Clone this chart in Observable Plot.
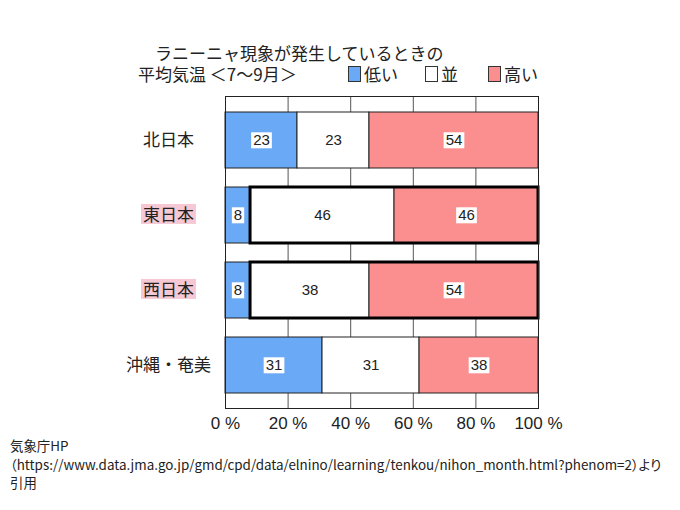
<!DOCTYPE html>
<html>
<head>
<meta charset="utf-8">
<script src="https://cdn.jsdelivr.net/npm/d3@7"></script>
<script src="https://cdn.jsdelivr.net/npm/@observablehq/plot@0.6"></script>
<style>
  html, body { margin: 0; padding: 0; background: #fff; }
  #wrap { position: relative; width: 680px; height: 510px; overflow: hidden; font-family: "Noto Sans CJK JP", "Liberation Sans", sans-serif; color: #222; }
  #header { position: relative; height: 86px; }
  .t { position: absolute; font-size: 17px; white-space: nowrap; line-height: 19px; }
  .lg { position: absolute; top: 64px; font-size: 17px; line-height: 19px; white-space: nowrap; display: flex; align-items: center; }
  .sw { display: inline-block; width: 11px; height: 14px; border: 1px solid #333; margin-right: 3px; }
  #caption { position: absolute; left: 10px; top: 436px; font-size: 13.4px; line-height: 18.5px; white-space: nowrap; color: #222; font-feature-settings: "palt"; }
</style>
</head>
<body>
<div id="wrap">
  <div id="header">
    <div class="t" style="left:155px; top:43px;">ラニーニャ現象が発生しているときの</div>
    <div class="t" style="left:138px; top:64px;">平均気温 ＜7～9月＞</div>
    <div id="legend"></div>
  </div>
  <div id="chart"></div>
  <div id="caption"></div>
</div>
<script>
const regions = ["北日本", "東日本", "西日本", "沖縄・奄美"];
const categories = ["低い", "並", "高い"];
const low = [23, 8, 8, 31];
const normal = [23, 46, 38, 31];
const high = [54, 46, 54, 38];
const highlighted = ["東日本", "西日本"];
const xTicks = [0, 20, 40, 60, 80, 100];
const colors = ["#6aa9f5", "#ffffff", "#fb8f8f"];
const captionLines = [
  "気象庁HP",
  "（https://www.data.jma.go.jp/gmd/cpd/data/elnino/learning/tenkou/nihon_month.html?phenom=2）より",
  "引用"
];

const series = [low, normal, high];
const rows = [];
regions.forEach((r, i) => {
  categories.forEach((c, j) => rows.push({region: r, category: c, value: series[j][i]}));
});
const outlineRows = regions
  .map((r, i) => ({region: r, start: low[i], end: low[i] + normal[i] + high[i]}))
  .filter(d => highlighted.includes(d.region));

// legend
const legendLeft = [348, 425, 488];
const legend = document.getElementById("legend");
categories.forEach((c, j) => {
  const item = document.createElement("div");
  item.className = "lg";
  item.style.left = legendLeft[j] + "px";
  item.innerHTML = `<span class="sw" style="background:${colors[j]}"></span><span>${c}</span>`;
  legend.appendChild(item);
});

document.getElementById("caption").innerHTML = captionLines.join("<br>");

const plot = Plot.plot({
  width: 680,
  height: 350,
  marginTop: 10,
  marginBottom: 28,
  marginLeft: 225,
  marginRight: 142,
  style: {fontFamily: "'Liberation Sans', 'Noto Sans CJK JP', sans-serif", fontSize: "16px", color: "#222", background: "transparent"},
  x: {domain: [0, 100], axis: null},
  y: {domain: regions, paddingInner: 0.26, paddingOuter: 0.2, axis: null},
  color: {domain: categories, range: colors},
  marks: [
    Plot.gridX(xTicks, {stroke: "#555", strokeOpacity: 1, strokeWidth: 1}),
    Plot.barX(rows, Plot.stackX({x: "value", y: "region", z: "category", fill: "category", stroke: "#222", strokeWidth: 1, order: categories})),
    Plot.barX(outlineRows, {x1: "start", x2: "end", y: "region", fill: "none", stroke: "#000", strokeWidth: 3}),
    Plot.frame({stroke: "#222", strokeWidth: 1}),
    Plot.text(rows, Plot.stackX({x: "value", y: "region", z: "category", text: d => String(d.value), order: categories, fontSize: 15, fill: "#222"})),
    Plot.axisY({tickSize: 0, tickPadding: 0, textAnchor: "middle", dx: -57, fontSize: 17, label: null, fontFamily: "'Noto Sans CJK JP', sans-serif"}),
    Plot.axisX(xTicks, {tickSize: 0, tickPadding: 8, tickFormat: d => d + " %", fontSize: 17, label: null})
  ]
});
document.getElementById("chart").appendChild(plot);

const svgNS = "http://www.w3.org/2000/svg";
d3.select(plot).selectAll("text").each(function() {
  const s = this.textContent;
  const isValue = /^\d+$/.test(s);
  const isHi = highlighted.includes(s);
  if (!isValue && !isHi) return;
  const b = this.getBBox();
  const t = this.getAttribute("transform");
  const r = document.createElementNS(svgNS, "rect");
  if (isValue) {
    r.setAttribute("x", b.x - 2); r.setAttribute("y", b.y + 1);
    r.setAttribute("width", b.width + 4); r.setAttribute("height", b.height - 1);
    r.setAttribute("fill", "#fff");
  } else {
    r.setAttribute("x", b.x - 2); r.setAttribute("y", b.y + 3);
    r.setAttribute("width", b.width + 4); r.setAttribute("height", b.height - 5);
    r.setAttribute("fill", "#f6c8d4");
  }
  if (t) r.setAttribute("transform", t);
  this.parentNode.insertBefore(r, this);
});
</script>
</body>
</html>
